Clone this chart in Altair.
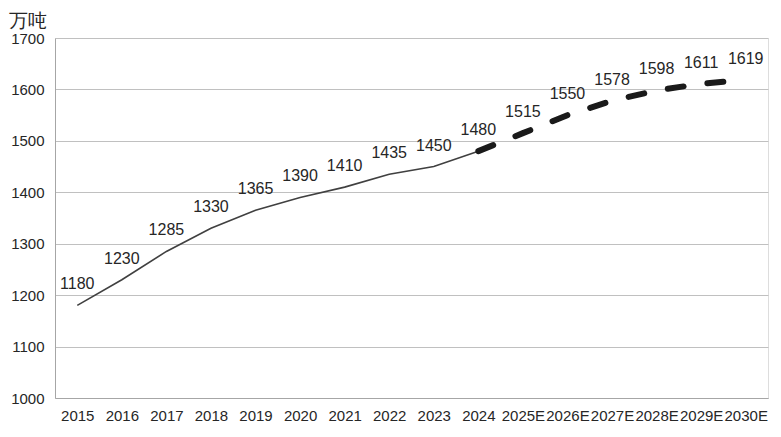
import altair as alt
import pandas as pd

years = ["2015", "2016", "2017", "2018", "2019", "2020", "2021", "2022", "2023", "2024",
         "2025E", "2026E", "2027E", "2028E", "2029E", "2030E"]
values = [1180, 1230, 1285, 1330, 1365, 1390, 1410, 1435, 1450, 1480,
          1515, 1550, 1578, 1598, 1611, 1619]
n_actual = 10  # 2015-2024 actual

df = pd.DataFrame({"year": years, "value": values})
actual = df.iloc[:n_actual]
forecast = df.iloc[n_actual - 1:]

FONT = "Liberation Sans"

x_enc = alt.X("year:N", sort=years,
              scale=alt.Scale(type="point", padding=0.5),
              axis=alt.Axis(title=None, labelAngle=0, ticks=False, labelPadding=10,
                            labelFontSize=15, labelColor="#262626", labelFont=FONT,
                            domainColor="#a6a6a6", grid=False))
y_enc = alt.Y("value:Q", scale=alt.Scale(domain=[1000, 1700], nice=False, zero=False),
              axis=alt.Axis(title="万吨", titleAngle=0, titleX=-47, titleY=-18,
                            titleAlign="left", titleBaseline="middle",
                            titleFontSize=19, titleFontWeight="normal", titleColor="#262626",
                            titleFont=FONT, format="d",
                            values=[1000, 1100, 1200, 1300, 1400, 1500, 1600, 1700],
                            ticks=False, labelPadding=11, labelFontSize=15,
                            labelColor="#262626", labelFont=FONT,
                            domainColor="#a6a6a6", gridColor="#c0c0c0", gridWidth=1))

solid = alt.Chart(actual).mark_line(color="#404040", strokeWidth=1.6).encode(x=x_enc, y=y_enc)
dashed = alt.Chart(forecast).mark_line(color="#1a1a1a", strokeWidth=6, strokeDash=[16, 24],
                                       strokeCap="round").encode(x=x_enc, y=y_enc)
labels = alt.Chart(df).mark_text(dy=-21, fontSize=16, color="#262626", font=FONT).encode(
    x=x_enc, y=y_enc, text="value:Q")

chart = alt.layer(solid, dashed, labels).properties(
    width=713, height=360,
    autosize=alt.AutoSizeParams(type="none"),
    padding={"left": 47, "top": 30, "right": 5, "bottom": 30},
).configure_view(stroke=None).configure(background="white")

chart.save("out.html", embed_options={"renderer": "svg", "actions": False})
